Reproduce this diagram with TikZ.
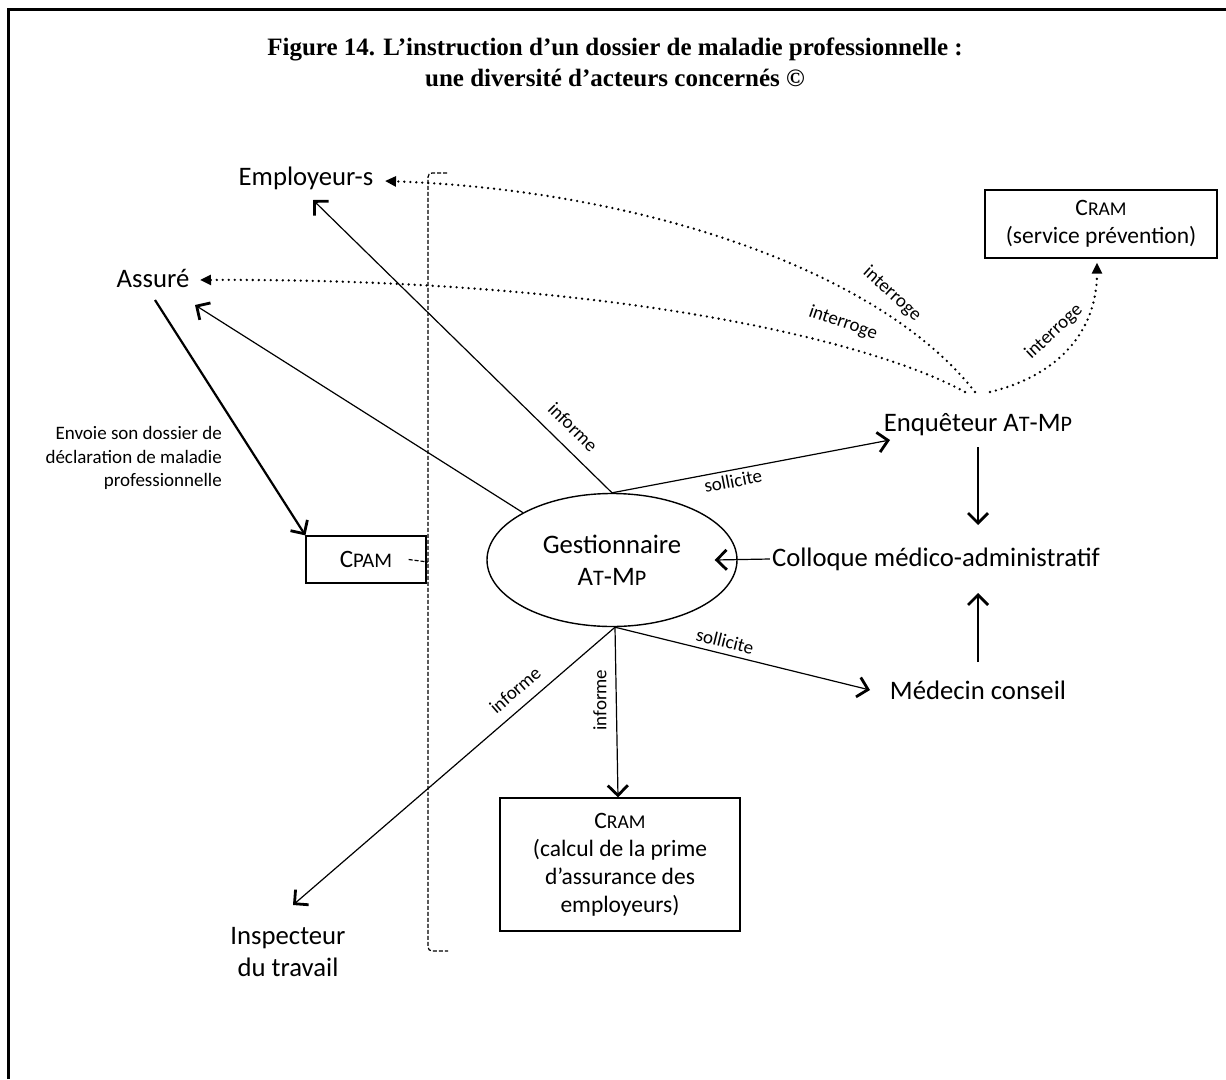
\documentclass[tikz,border=0pt]{standalone}
\usepackage{fontspec}
\usepackage{graphicx}
\setmainfont{Carlito}
\newfontfamily\titlefont{Liberation Serif}
\usetikzlibrary{arrows.meta,shapes.geometric}
\newcommand\fsc[2]{#1\scalebox{0.83}{#2}}
\newcommand\atmp{\fsc{A}{T}-\fsc{M}{P}}
\tikzset{
  lab/.style={font=\fontsize{26.7}{32}\selectfont, inner sep=2pt, align=center},
  boxlab/.style={font=\fontsize{23.5}{28}\selectfont, align=center, draw, line width=1.2pt, inner sep=0pt},
  small/.style={font=\fontsize{19}{23.5}\selectfont, inner sep=1pt},
  con/.style={line width=1.2pt, -{Straight Barb[length=10pt,width=20pt,line width=2.8pt]}},
  dots/.style={line width=2.6pt, dash pattern=on 0pt off 6pt, line cap=round, -{Triangle[length=11pt,width=10pt]}},
  brk/.style={line width=1.2pt, dash pattern=on 4pt off 2pt},
}
\begin{document}
\begin{tikzpicture}[x=1pt,y=-1pt]
\useasboundingbox (0,0) rectangle (1226,1079);
% frame
\draw[line width=3pt] (8,1079) -- (8,9) -- (1226,9);
% title
\node[font=\titlefont\bfseries\fontsize{25}{31}\selectfont, align=center] (title) at (615,62)
  {Figure 14. L’instruction d’un dossier de maladie professionnelle :\\une diversité d’acteurs concernés ©};
% nodes
\node[lab] (emp) at (306,178) {Employeur-s};
\node[lab] (ass) at (153,278) {Assuré};
\node[small, align=right, anchor=east] (env) at (223,458) {Envoie son dossier de\\déclaration de maladie\\professionnelle};
\node[boxlab, minimum width=120pt, minimum height=47pt, font=\fontsize{25}{28}\selectfont] (cpam) at (366,559.5) {\fsc{C}{PAM}};
\node[draw, ellipse, line width=1.4pt, minimum width=250pt, minimum height=133pt, inner sep=0pt, lab] (gest) at (612,560) {Gestionnaire\\\atmp};
\node[lab] (enq) at (978,425) {Enquêteur \atmp};
\node[boxlab, minimum width=232pt, minimum height=68pt] (cramp) at (1101,224) {\fsc{C}{RAM}\\(service prévention)};
\node[lab] (coll) at (936,559) {Colloque médico-administratif};
\node[lab] (med) at (978,690) {Médecin conseil};
\node[boxlab, minimum width=240pt, minimum height=133pt] (cramc) at (620,864.5) {\fsc{C}{RAM}\\(calcul de la prime\\d’assurance des\\employeurs)};
\node[lab] (insp) at (288,952) {Inspecteur\\du travail};
% bracket
\draw[brk, rounded corners=4pt] (447,173) -- (428,173) -- (428,951) -- (448,951);
\draw[brk] ([xshift=-18pt]cpam.east) -- (428,562);
% solid connectors
\draw[con] (gest.north) -- ([shift={(7,22)}]emp.center);
\draw[con] (gest.152) -- ([shift={(42,27)}]ass.center);
\draw[con, line width=2.2pt] ([shift={(2,22)}]ass.center) -- (cpam.north west);
\draw[con] (gest.north) -- ([shift={(-88,15)}]enq.center);
\draw[con] (coll.west) -- ([xshift=-23pt]gest.east);
\draw[con] ([yshift=-22pt]enq.center) -- ([shift={(42,-34)}]coll.center);
\draw[con] ([shift={(0,-28)}]med.center) -- ([shift={(42,34)}]coll.center);
\draw[con] ([xshift=3pt]gest.south) -- ([shift={(-108,0)}]med.center);
\draw[con] ([xshift=3pt]gest.south) -- ([xshift=-2pt]cramc.north);
\draw[con] ([xshift=3pt]gest.south) -- ([shift={(5,-47)}]insp.center);
% dotted connectors
\coordinate (q1) at ([shift={(-3,-33)}]enq.center);
\coordinate (q2) at ([shift={(-13,-33)}]enq.center);
\coordinate (q3) at ([shift={(12,-33)}]enq.center);
\draw[dots] (q1) .. controls (880,270) and (640,190) .. ([shift={(79,3)}]emp.center);
\draw[dots] (q2) .. controls (880,345) and (630,278) .. ([shift={(47,2)}]ass.center);
\draw[dots] (q3) .. controls (1060,375) and (1097,330) .. ([shift={(-4,4)}]cramp.south);
% connector labels
\node[small, rotate=-45] (l1) at (573,427) {informe};
\node[small, rotate=11] (l2) at (733,481) {sollicite};
\node[small, rotate=-14] (l3) at (725,641) {sollicite};
\node[small, rotate=90] (l4) at (600,700) {informe};
\node[small, rotate=41] (l5) at (515,690) {informe};
\node[small, rotate=-42] (l6) at (892,294) {interroge};
\node[small, rotate=-19] (l7) at (843,323) {interroge};
\node[small, rotate=43] (l8) at (1054,332) {interroge};
\end{tikzpicture}
\end{document}
